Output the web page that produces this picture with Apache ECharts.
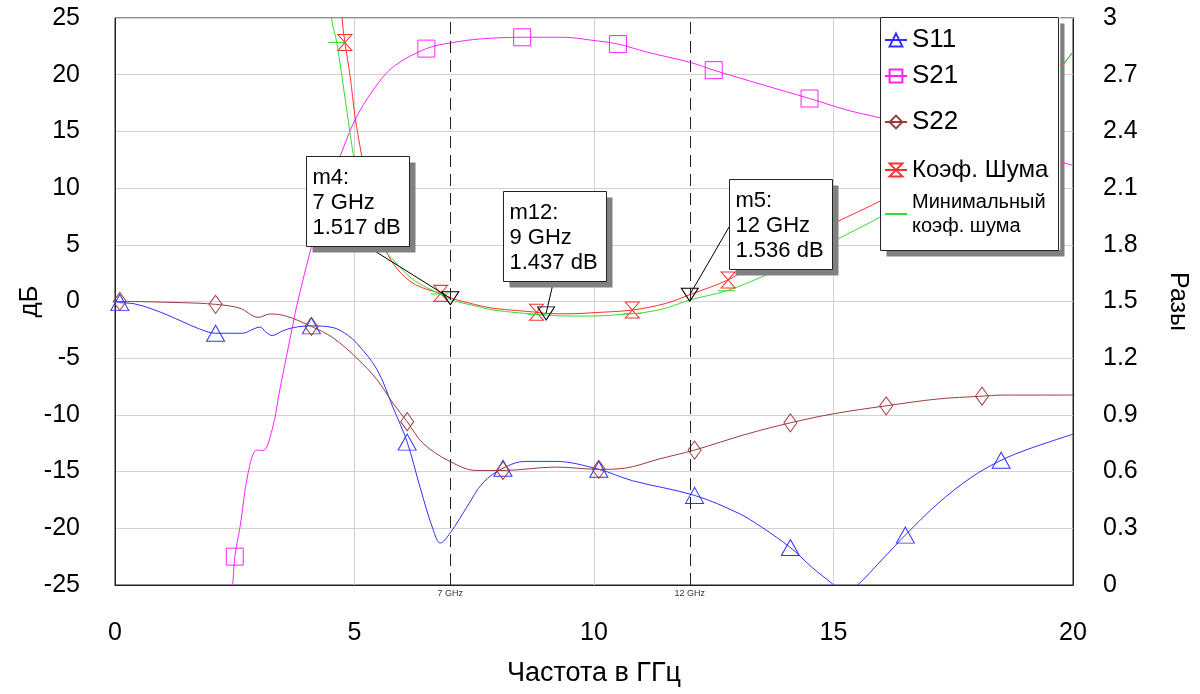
<!DOCTYPE html>
<html>
<head>
<meta charset="utf-8">
<script src="https://cdn.jsdelivr.net/npm/echarts@6/dist/echarts.min.js"></script>
<style>
html, body { margin: 0; padding: 0; background: #fff; }
#chart { width: 1200px; height: 694px; }
</style>
</head>
<body>
<div id="chart"></div>
<script>
// S-параметры, дБ (левая ось)
var s11F  = [0, 0.1, 0.4, 0.73, 1.1, 1.42, 1.75, 2.1, 2.67, 2.85, 3.03, 3.15, 3.28, 3.5, 3.72, 4.1, 4.55, 4.8, 5.05, 5.47, 5.8, 6.1, 6.37, 6.64, 6.79, 7.0, 7.35, 7.68, 8.1, 8.57, 9.2, 10.1, 10.8, 12.1, 13.03, 13.5, 14.1, 14.54, 14.98, 15.25, 15.53, 16.05, 16.5, 17.17, 17.88, 18.5, 19.08, 20];
var s11Db = [0, -0.1, -0.2, -0.6, -1.2, -1.8, -2.4, -2.8, -2.8, -2.5, -2.25, -2.7, -3.0, -2.6, -2.3, -2.15, -2.3, -2.8, -3.7, -6.0, -9.3, -12.4, -16.4, -20.1, -21.3, -20.4, -18.1, -16.0, -14.7, -14.1, -14.1, -14.8, -15.8, -17.1, -18.7, -19.9, -21.7, -23.4, -24.9, -25.8, -24.9, -22.6, -20.6, -17.85, -15.5, -14.0, -13.0, -11.7];
var s11Marks = [0.1, 2.1, 4.1, 6.1, 8.1, 10.1, 12.1, 14.1, 16.5, 18.5];

var s21F  = [2.44, 2.47, 2.5, 2.61, 2.78, 2.96, 3.09, 3.28, 3.44, 3.72, 3.79, 4.1, 4.5, 4.7, 5.01, 5.39, 5.81, 6.5, 7.0, 7.62, 8.5, 9.36, 9.92, 10.5, 11.1, 12.03, 12.5, 13.53, 14.5, 15.27, 15.97, 16.5, 17.0, 18.0, 18.5, 19.0, 19.73, 20];
var s21Db = [-25.5, -24.3, -22.5, -19.9, -15.1, -13.1, -13.15, -11.3, -7.8, -1.9, -0.46, 4.8, 10.5, 12.8, 16.0, 18.65, 20.7, 22.3, 22.8, 23.15, 23.3, 23.3, 23.06, 22.7, 22.0, 21.06, 20.4, 19.1, 17.9, 16.9, 16.2, 15.7, 15.2, 14.1, 13.6, 13.0, 12.3, 12.0];
var s21Marks = [2.5, 4.5, 6.5, 8.5, 10.5, 12.5, 14.5, 16.5, 18.5];

var s22F  = [0, 0.1, 1.36, 2.1, 2.61, 2.99, 3.24, 3.58, 4.1, 4.55, 5.05, 5.47, 5.8, 6.1, 6.43, 6.99, 7.55, 8.1, 9.2, 10.1, 10.64, 11.35, 12.1, 13.18, 14.1, 15.0, 16.1, 17.17, 18.1, 18.5, 20];
var s22Db = [0, 0, -0.1, -0.25, -0.6, -1.4, -1.1, -1.3, -2.2, -3.2, -5.0, -6.9, -8.95, -10.6, -12.5, -14.1, -14.9, -14.9, -14.6, -14.8, -14.7, -13.9, -13.1, -11.7, -10.7, -9.9, -9.2, -8.6, -8.35, -8.25, -8.25];
var s22Marks = [0.1, 2.1, 4.1, 6.1, 8.1, 10.1, 12.1, 14.1, 16.1, 18.1];

// коэффициент шума, разы (правая ось)
var nfF   = [4.66, 4.74, 4.8, 4.91, 5.01, 5.15, 5.3, 5.45, 5.65, 5.9, 6.2, 6.5, 6.8, 7.03, 7.5, 7.9, 8.4, 8.8, 9.0, 9.5, 10.0, 10.8, 11.5, 12.0, 12.8, 13.1, 13.5, 14.2, 14.8, 15.0, 16.0, 16.8, 17.0, 18.0, 18.8, 19.0, 19.7, 20];
var nfVal = [3.4, 3.0, 2.87, 2.69, 2.48, 2.27, 2.05, 1.89, 1.77, 1.67, 1.6, 1.565, 1.543, 1.517, 1.485, 1.464, 1.452, 1.443, 1.437, 1.435, 1.441, 1.455, 1.49, 1.536, 1.614, 1.66, 1.72, 1.81, 1.89, 1.914, 2.035, 2.15, 2.18, 2.35, 2.51, 2.55, 2.73, 2.82];
var nfMarks = [4.8, 6.8, 8.8, 10.8, 12.8, 14.8, 16.8, 18.8];

var nfMinF   = [4.45, 4.52, 4.63, 4.84, 4.98, 5.15, 5.35, 5.6, 5.81, 6.2, 6.5, 6.78, 7.03, 7.55, 7.9, 8.8, 9.5, 9.99, 10.5, 10.8, 11.03, 11.5, 12.0, 12.77, 13.67, 14.3, 15.0, 16.0, 17.0, 18.0, 19.0, 19.7, 20];
var nfMinVal = [3.4, 3.0, 2.87, 2.51, 2.27, 2.05, 1.9, 1.78, 1.72, 1.62, 1.575, 1.54, 1.508, 1.475, 1.455, 1.432, 1.423, 1.423, 1.43, 1.436, 1.441, 1.465, 1.508, 1.557, 1.649, 1.73, 1.82, 1.95, 2.1, 2.28, 2.5, 2.72, 2.82];
var nfMinMarks = [4.63, 6.78, 8.8, 10.8, 12.77];

// маркеры
var mkName = ['m4', 'm12', 'm5'];
var mkF    = [7, 9, 12];
var mkVal  = [1.517, 1.437, 1.536];
var fLines = [7, 12];

var FONT = '"Liberation Sans", Arial, sans-serif';
var SHADOW = '#808080';

function lineData(fs, vs, marks) {
    return fs.map(function (f, i) {
        if (marks.indexOf(f) >= 0) return [f, vs[i]];
        return { value: [f, vs[i]], symbol: 'none' };
    });
}

var chart = echarts.init(document.getElementById('chart'));

function sSeries(name, color, symbol, size, data, yIdx) {
    return {
        name: name,
        type: 'line',
        yAxisIndex: yIdx,
        data: data,
        smooth: 0.35,
        symbol: symbol,
        symbolSize: size,
        showAllSymbol: true,
        lineStyle: { color: color, width: 1 },
        itemStyle: { color: 'transparent', borderColor: color, borderWidth: 1 },
        emphasis: { disabled: true }
    };
}

var minData = nfMinF.map(function (f, i) {
    if (nfMinMarks.indexOf(f) >= 0) {
        return { value: [f, nfMinVal[i]], symbol: 'rect', symbolSize: [18, 1], itemStyle: { color: '#33dd33', borderWidth: 0 } };
    }
    return [f, nfMinVal[i]];
});

var s11 = sSeries('S11', '#3030ff', 'triangle', [18, 16], lineData(s11F, s11Db, s11Marks), 0);
s11.markLine = {
    silent: true,
    symbol: 'none',
    lineStyle: { color: '#222', width: 1, type: [12, 7] },
    label: { show: true, position: 'start', distance: 4, fontSize: 9, color: '#333', fontFamily: FONT,
        formatter: function (p) { return p.value + ' GHz'; } },
    data: fLines.map(function (f) { return { xAxis: f }; })
};

var nf = sSeries('Коэф. Шума', '#ff3030', 'path://M0,0L10,0L0,12L10,12Z', [14, 16], lineData(nfF, nfVal, nfMarks), 1);
nf.markPoint = {
    silent: true,
    symbol: 'triangle',
    symbolRotate: 180,
    symbolSize: [17, 13],
    itemStyle: { color: 'transparent', borderColor: '#000', borderWidth: 1 },
    label: { show: false },
    data: mkF.map(function (f, i) { return { coord: [f, mkVal[i]] }; })
};

var nfMin = sSeries('Минимальный\nкоэф. шума', '#33dd33', 'none', 6, minData, 1);
nfMin.itemStyle = { color: 'transparent', borderWidth: 0 };

var option = {
    animation: false,
    backgroundColor: '#fff',
    textStyle: { fontFamily: FONT },
    grid: {
        left: 115, right: 127, top: 18, bottom: 109,
        show: true, borderColor: '#222', borderWidth: 1, backgroundColor: '#fff',
        outerBoundsMode: 'none'
    },
    legend: {
        orient: 'vertical', left: 880, top: 17,
        padding: [5, 12, 12, 4],
        itemGap: 0, itemWidth: 22, itemHeight: 16,
        backgroundColor: '#fff', borderWidth: 0,
        selectedMode: false,
        textStyle: { color: '#000', fontFamily: FONT },
        data: [
            { name: 'S11', textStyle: { fontSize: 26, lineHeight: 36 } },
            { name: 'S21', textStyle: { fontSize: 26, lineHeight: 36 } },
            { name: 'S22', textStyle: { fontSize: 26, lineHeight: 56 } },
            { name: 'Коэф. Шума', textStyle: { fontSize: 24, lineHeight: 40 } },
            { name: 'Минимальный\nкоэф. шума', textStyle: { fontSize: 20, lineHeight: 24 } }
        ]
    },
    xAxis: {
        type: 'value', min: 0, max: 20, interval: 5,
        name: 'Частота в ГГц', nameLocation: 'middle', nameGap: 75, nameMoveOverlap: false,
        nameTextStyle: { fontSize: 27, color: '#000', fontFamily: FONT },
        axisLine: { onZero: false, lineStyle: { color: '#222', width: 1 } },
        axisTick: { show: false },
        axisLabel: { fontSize: 25, color: '#000', margin: 36, fontFamily: FONT },
        splitLine: { show: true, lineStyle: { color: '#d2d2d2', width: 1 } }
    },
    yAxis: [{
        type: 'value', min: -25, max: 25, interval: 5,
        name: 'дБ', nameLocation: 'middle', nameGap: 72, nameRotate: 90, nameMoveOverlap: false,
        nameTextStyle: { fontSize: 26, color: '#000', fontFamily: FONT },
        axisLine: { show: true, lineStyle: { color: '#222', width: 1 } },
        axisTick: { show: false },
        axisLabel: { fontSize: 25, color: '#000', margin: 35, fontFamily: FONT },
        splitLine: { show: true, lineStyle: { color: '#d2d2d2', width: 1 } }
    }, {
        type: 'value', min: 0, max: 3, interval: 0.3, position: 'right',
        name: 'Разы', nameLocation: 'middle', nameGap: 92, nameRotate: -90, nameMoveOverlap: false,
        nameTextStyle: { fontSize: 25, color: '#000', fontFamily: FONT },
        axisLine: { show: true, lineStyle: { color: '#222', width: 1 } },
        axisTick: { show: false },
        axisLabel: { fontSize: 25, color: '#000', margin: 30, fontFamily: FONT },
        splitLine: { show: false }
    }],
    series: [
        s11,
        sSeries('S21', '#ff22ff', 'rect', [17, 17], lineData(s21F, s21Db, s21Marks), 0),
        sSeries('S22', '#9c3c3c', 'diamond', [13, 18], lineData(s22F, s22Db, s22Marks), 0),
        nf,
        nfMin
    ]
};

chart.setOption(option);

var gr = [];

// рамка и тень легенды
var LG = { x: 880.5, y: 17.5, w: 178, h: 233 };
gr.push({ type: 'rect', z: 3, silent: true,
    shape: { x: LG.x + 6, y: LG.y + 6, width: LG.w, height: LG.h },
    style: { fill: SHADOW } });
gr.push({ type: 'rect', z: 6, silent: true,
    shape: { x: LG.x, y: LG.y, width: LG.w, height: LG.h },
    style: { fill: 'none', stroke: '#222', lineWidth: 1 } });

// подписи маркеров m4 / m12 / m5
var boxOff  = [[-144, -142], [-43, -122], [39, -116]];
var leadOff = [[61, 1], [50, 1], [0, 0.52]];
var BW = 103, BH = 90;
mkF.forEach(function (f, i) {
    var p = chart.convertToPixel({ xAxisIndex: 0, yAxisIndex: 1 }, [f, mkVal[i]]);
    var bx = Math.round(p[0] + boxOff[i][0]) + 0.5;
    var by = Math.round(p[1] + boxOff[i][1]) + 0.5;
    var lx = bx + leadOff[i][0];
    var ly = by + leadOff[i][1] * BH;
    gr.push({
        type: 'line', z: 90, silent: true,
        shape: { x1: lx, y1: ly, x2: p[0], y2: p[1] },
        style: { stroke: '#000', lineWidth: 1 }
    });
    gr.push({
        type: 'rect', z: 99, silent: true,
        shape: { x: bx + 6, y: by + 6, width: BW, height: BH },
        style: { fill: SHADOW }
    });
    gr.push({
        type: 'rect', z: 100, silent: true,
        shape: { x: bx, y: by, width: BW, height: BH },
        style: { fill: '#fff', stroke: '#222', lineWidth: 1 }
    });
    gr.push({
        type: 'text', z: 101, silent: true,
        x: bx + 6, y: by + 9,
        style: {
            text: mkName[i] + ':\n' + f + ' GHz\n' + mkVal[i].toFixed(3) + ' dB',
            fontSize: 22, fontFamily: FONT, lineHeight: 25, fill: '#000',
            verticalAlign: 'top', align: 'left'
        }
    });
});
chart.setOption({ graphic: gr });
</script>
</body>
</html>
